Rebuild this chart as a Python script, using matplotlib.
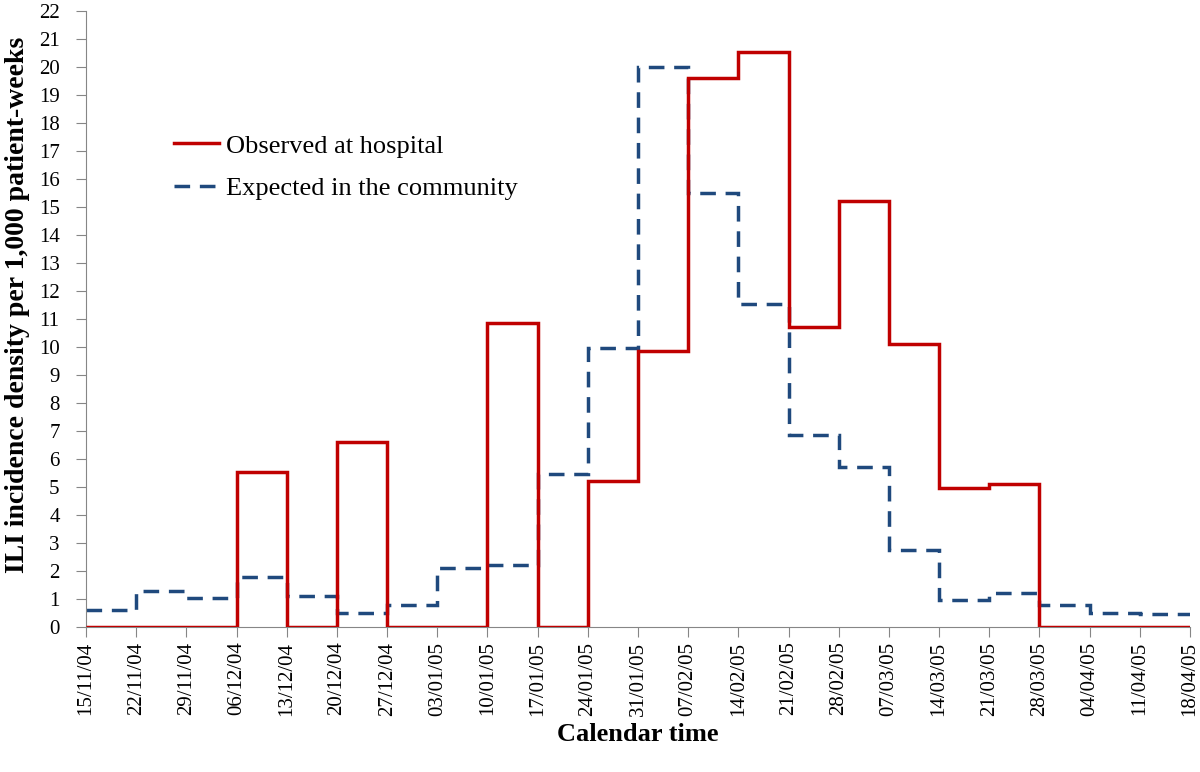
import numpy as np
import matplotlib.pyplot as plt

plt.rcParams['font.family'] = ['Liberation Serif', 'DejaVu Serif']

weeks = ["15/11/04", "22/11/04", "29/11/04", "06/12/04", "13/12/04", "20/12/04",
         "27/12/04", "03/01/05", "10/01/05", "17/01/05", "24/01/05", "31/01/05",
         "07/02/05", "14/02/05", "21/02/05", "28/02/05", "07/03/05", "14/03/05",
         "21/03/05", "28/03/05", "04/04/05", "11/04/05", "18/04/05"]

observed = [0, 0, 0, 5.55, 0, 6.6, 0, 0, 10.85, 0, 5.2, 9.85,
            19.6, 20.55, 10.7, 15.2, 10.1, 4.95, 5.1, 0, 0, 0]

expected = [0.6, 1.3, 1.05, 1.8, 1.1, 0.5, 0.8, 2.1, 2.2, 5.45, 9.95, 20.0,
            15.5, 11.55, 6.85, 5.7, 2.75, 0.95, 1.2, 0.8, 0.5, 0.45]

edges = np.arange(len(weeks))

fig = plt.figure(figsize=(12, 7.72), dpi=100)
ax = fig.add_axes([0.0717, 0.1878, 0.92, 0.798])

ax.stairs(observed, edges, color='#C00000', linewidth=2.5, baseline=None,
          label='Observed at hospital', zorder=3)
ax.stairs(expected, edges, color='#1F497D', linewidth=2.5, baseline=None,
          linestyle=(0, (4.5, 2.8)), label='Expected in the community',
          zorder=2)

ax.set_xlim(0, len(weeks) - 1)
ax.set_ylim(0, 22)
ax.set_yticks(range(0, 23))
ax.set_xticks(edges)
ax.set_xticklabels(weeks, rotation=90)

for side in ['top', 'right']:
    ax.spines[side].set_visible(False)
for side in ['left', 'bottom']:
    ax.spines[side].set_color('#868686')
ax.tick_params(axis='both', colors='#868686', labelcolor='black',
               labelsize=15, length=7, direction='out')
ax.tick_params(axis='y', pad=12)

ax.set_ylabel('ILI incidence density per 1,000 patient-weeks',
              fontsize=20, fontweight='bold')
ax.yaxis.set_label_coords(-0.051, 0.523)
ax.set_xlabel('Calendar time', fontsize=19, fontweight='bold', labelpad=5)

# legend without frame, upper left inside the plot
ax.legend(loc='upper left', bbox_to_anchor=(0.08, 0.8), frameon=False,
          fontsize=19, handlelength=1.7, handletextpad=0.25,
          labelspacing=0.72, borderpad=0, borderaxespad=0)

fig.savefig('out.png', dpi=100)
